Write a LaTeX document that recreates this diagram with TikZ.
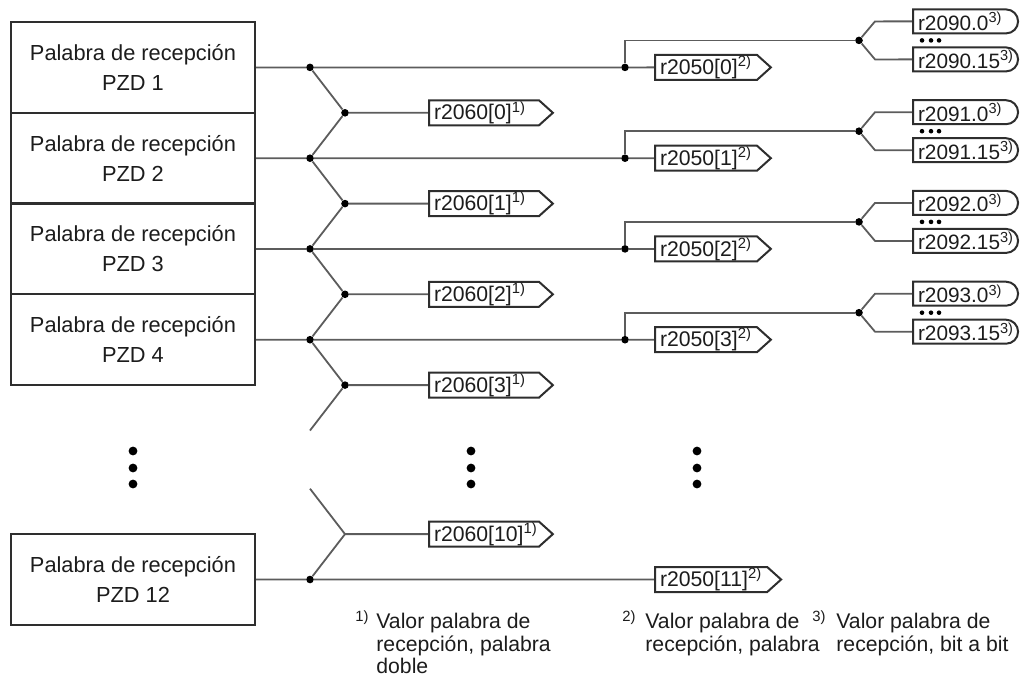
\documentclass[tikz,border=0pt]{standalone}
\usepackage{fontspec}
\setmainfont{Liberation Sans}
\usetikzlibrary{shapes.symbols,shapes.misc}
\pgfdeclarelayer{edgelayer}
\pgfdeclarelayer{nodelayer}
\pgfsetlayers{edgelayer,nodelayer,main}
\definecolor{wiregray}{HTML}{5C5C5C}
\definecolor{framegray}{HTML}{2E2E2E}
\definecolor{inkgray}{HTML}{1C1C1C}
\tikzstyle{wordbox}=[draw=framegray, line width=1.05pt, fill=white, text=inkgray, minimum width=122pt, minimum height=45.4pt, inner sep=0pt, align=center, font=\fontsize{10.9}{15}\selectfont]
\tikzstyle{wire}=[draw=wiregray, line width=0.9pt]
\tikzstyle{junction}=[circle, fill=black, inner sep=0pt, minimum size=3.8pt]
\tikzstyle{bigdot}=[circle, fill=black, inner sep=0pt, minimum size=4.4pt]
\tikzstyle{tinydot}=[circle, fill=black, inner sep=0pt, minimum size=2.3pt]
\tikzstyle{dwordout}=[signal, signal to=east, signal pointer angle=84, draw=framegray, line width=1pt, fill=white, text=inkgray, minimum height=12.5pt, inner ysep=0pt, inner xsep=2.5pt, text width=50pt, align=left, font=\fontsize{10.6}{12}\selectfont]
\tikzstyle{wordout}=[signal, signal to=east, signal pointer angle=84, draw=framegray, line width=1pt, fill=white, text=inkgray, minimum height=12.5pt, inner ysep=0pt, inner xsep=2.5pt, font=\fontsize{10.6}{12}\selectfont]
\tikzstyle{bitout}=[rounded rectangle, rounded rectangle left arc=none, draw=framegray, line width=1pt, fill=white, text=inkgray, minimum height=12pt, inner ysep=0pt, inner xsep=2.5pt, text width=45.5pt, align=left, font=\fontsize{10.4}{12}\selectfont]
\tikzstyle{footmark}=[inner sep=0pt, text=inkgray, font=\fontsize{10.6}{11.2}\selectfont]
\tikzstyle{foottext}=[inner sep=0pt, text=inkgray, align=left, font=\fontsize{10.6}{11.2}\selectfont]

\begin{document}
\begin{tikzpicture}[x=0.5pt, y=-0.5pt]
	\useasboundingbox (0,0) rectangle (1032,680);
	\begin{pgfonlayer}{nodelayer}
		% receive words
		\node [style=wordbox] (w1) at (133, 67.4) {Palabra de recepción\\PZD 1};
		\node [style=wordbox] (w2) at (133, 158.2) {Palabra de recepción\\PZD 2};
		\node [style=wordbox] (w3) at (133, 248.9) {Palabra de recepción\\PZD 3};
		\node [style=wordbox] (w4) at (133, 339.7) {Palabra de recepción\\PZD 4};
		\node [style=wordbox] (w12) at (133, 579.5) {Palabra de recepción\\PZD 12};
		% split points
		\node [style=junction] (s1) at (310, 67.4) {};
		\node [style=junction] (s2) at (310, 158.2) {};
		\node [style=junction] (s3) at (310, 248.9) {};
		\node [style=junction] (s4) at (310, 339.7) {};
		\node [style=junction] (s12) at (310, 579.5) {};
		\node [style=junction] (m1) at (345, 112.8) {};
		\node [style=junction] (m2) at (345, 203.6) {};
		\node [style=junction] (m3) at (345, 294.3) {};
		\node [style=junction] (m4) at (345, 385.1) {};
		\coordinate (m12) at (345, 534.1);
		\coordinate (stub4) at (310, 430.5);
		\coordinate (stub12) at (310, 488.7);
		\node [style=junction] (t1) at (625, 67.4) {};
		\node [style=junction] (t2) at (625, 158.2) {};
		\node [style=junction] (t3) at (625, 248.9) {};
		\node [style=junction] (t4) at (625, 339.7) {};
		\node [style=junction] (f1) at (859, 40.4) {};
		\node [style=junction] (f2) at (859, 131.2) {};
		\node [style=junction] (f3) at (859, 221.9) {};
		\node [style=junction] (f4) at (859, 312.7) {};
		\coordinate (k1a) at (875, 21.4);
		\coordinate (k1b) at (875, 59.4);
		\coordinate (k2a) at (875, 112.2);
		\coordinate (k2b) at (875, 150.2);
		\coordinate (k3a) at (875, 202.9);
		\coordinate (k3b) at (875, 240.9);
		\coordinate (k4a) at (875, 293.7);
		\coordinate (k4b) at (875, 331.7);
		% double words
		\node [style=dwordout, anchor=west] (dw0) at (428, 112.8) {r2060[0]\textsuperscript{1)}};
		\node [style=dwordout, anchor=west] (dw1) at (428, 203.6) {r2060[1]\textsuperscript{1)}};
		\node [style=dwordout, anchor=west] (dw2) at (428, 294.3) {r2060[2]\textsuperscript{1)}};
		\node [style=dwordout, anchor=west] (dw3) at (428, 385.1) {r2060[3]\textsuperscript{1)}};
		\node [style=dwordout, anchor=west] (dw10) at (428, 534.1) {r2060[10]\textsuperscript{1)}};
		% words
		\node [style=wordout, anchor=west] (wd0) at (654, 67.4) {r2050[0]\textsuperscript{2)}};
		\node [style=wordout, anchor=west] (wd1) at (654, 158.2) {r2050[1]\textsuperscript{2)}};
		\node [style=wordout, anchor=west] (wd2) at (654, 248.9) {r2050[2]\textsuperscript{2)}};
		\node [style=wordout, anchor=west] (wd3) at (654, 339.7) {r2050[3]\textsuperscript{2)}};
		\node [style=wordout, anchor=west] (wd11) at (654, 579.5) {r2050[11]\textsuperscript{2)}};
		% bits
		\node [style=bitout, anchor=west] (b0lo) at (912, 21.4) {r2090.0\textsuperscript{3)}};
		\node [style=bitout, anchor=west] (b0hi) at (912, 59.4) {r2090.15\textsuperscript{3)}};
		\node [style=bitout, anchor=west] (b1lo) at (912, 112.2) {r2091.0\textsuperscript{3)}};
		\node [style=bitout, anchor=west] (b1hi) at (912, 150.2) {r2091.15\textsuperscript{3)}};
		\node [style=bitout, anchor=west] (b2lo) at (912, 202.9) {r2092.0\textsuperscript{3)}};
		\node [style=bitout, anchor=west] (b2hi) at (912, 240.9) {r2092.15\textsuperscript{3)}};
		\node [style=bitout, anchor=west] (b3lo) at (912, 293.7) {r2093.0\textsuperscript{3)}};
		\node [style=bitout, anchor=west] (b3hi) at (912, 331.7) {r2093.15\textsuperscript{3)}};
		\node [style=tinydot] (e1a) at (922, 40.4) {};
		\node [style=tinydot] (e1b) at (931, 40.4) {};
		\node [style=tinydot] (e1c) at (939, 40.4) {};
		\node [style=tinydot] (e2a) at (922, 131.2) {};
		\node [style=tinydot] (e2b) at (931, 131.2) {};
		\node [style=tinydot] (e2c) at (939, 131.2) {};
		\node [style=tinydot] (e3a) at (922, 221.9) {};
		\node [style=tinydot] (e3b) at (931, 221.9) {};
		\node [style=tinydot] (e3c) at (939, 221.9) {};
		\node [style=tinydot] (e4a) at (922, 312.7) {};
		\node [style=tinydot] (e4b) at (931, 312.7) {};
		\node [style=tinydot] (e4c) at (939, 312.7) {};
		% vertical ellipses
		\node [style=bigdot] (v1a) at (133, 451) {};
		\node [style=bigdot] (v1b) at (133, 468) {};
		\node [style=bigdot] (v1c) at (133, 484) {};
		\node [style=bigdot] (v2a) at (471, 451) {};
		\node [style=bigdot] (v2b) at (471, 468) {};
		\node [style=bigdot] (v2c) at (471, 484) {};
		\node [style=bigdot] (v3a) at (697, 451) {};
		\node [style=bigdot] (v3b) at (697, 468) {};
		\node [style=bigdot] (v3c) at (697, 484) {};
		% footnotes
		\node [style=footmark, anchor=base west] (n1) at (355, 629) {\textsuperscript{1)}};
		\node [style=foottext, anchor=north west] (t1note) at (376, 613) {Valor palabra de\\recepción, palabra\\doble};
		\node [style=footmark, anchor=base west] (n2) at (622, 629) {\textsuperscript{2)}};
		\node [style=foottext, anchor=north west] (t2note) at (645, 613) {Valor palabra de\\recepción, palabra};
		\node [style=footmark, anchor=base west] (n3) at (812, 629) {\textsuperscript{3)}};
		\node [style=foottext, anchor=north west] (t3note) at (836, 613) {Valor palabra de\\recepción, bit a bit};
	\end{pgfonlayer}
	\begin{pgfonlayer}{edgelayer}
		\draw [style=wire] (w1) -- (s1) -- (t1) -- (wd0);
		\draw [style=wire] (w2) -- (s2) -- (t2) -- (wd1);
		\draw [style=wire] (w3) -- (s3) -- (t3) -- (wd2);
		\draw [style=wire] (w4) -- (s4) -- (t4) -- (wd3);
		\draw [style=wire] (w12) -- (s12) -- (wd11);
		\draw [style=wire] (s1) -- (m1) -- (s2) -- (m2) -- (s3) -- (m3) -- (s4) -- (m4) -- (stub4);
		\draw [style=wire] (stub12) -- (m12) -- (s12);
		\draw [style=wire] (m1) -- (dw0);
		\draw [style=wire] (m2) -- (dw1);
		\draw [style=wire] (m3) -- (dw2);
		\draw [style=wire] (m4) -- (dw3);
		\draw [style=wire] (m12) -- (dw10);
		\draw [style=wire] (t1) |- (f1);
		\draw [style=wire] (t2) |- (f2);
		\draw [style=wire] (t3) |- (f3);
		\draw [style=wire] (t4) |- (f4);
		\draw [style=wire] (f1) -- (k1a) -- (b0lo);
		\draw [style=wire] (f1) -- (k1b) -- (b0hi);
		\draw [style=wire] (f2) -- (k2a) -- (b1lo);
		\draw [style=wire] (f2) -- (k2b) -- (b1hi);
		\draw [style=wire] (f3) -- (k3a) -- (b2lo);
		\draw [style=wire] (f3) -- (k3b) -- (b2hi);
		\draw [style=wire] (f4) -- (k4a) -- (b3lo);
		\draw [style=wire] (f4) -- (k4b) -- (b3hi);
	\end{pgfonlayer}
\end{tikzpicture}
\end{document}
